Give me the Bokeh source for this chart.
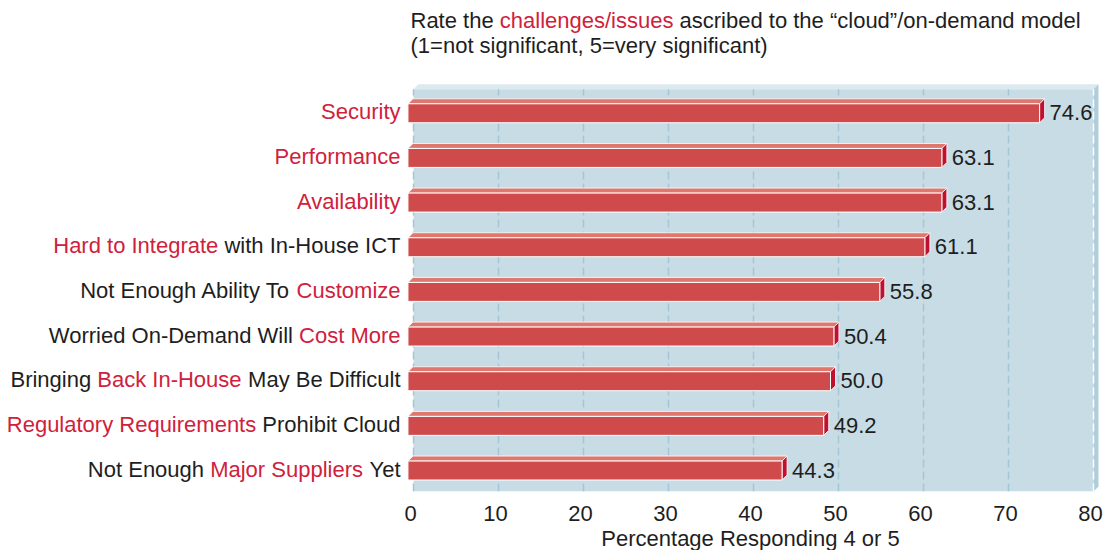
from bokeh.plotting import figure
from bokeh.models import Range1d, FixedTicker, ColumnDataSource, Title
from bokeh.embed import file_html
from bokeh.resources import INLINE
from bokeh.core.properties import value

# ---------------- data ----------------
categories = ["Security", "Performance", "Availability", "Hard to Integrate",
              "Customize", "Cost More", "Back In-House",
              "Regulatory Requirements", "Major Suppliers"]
values = [74.6, 63.1, 63.1, 61.1, 55.8, 50.4, 50.0, 49.2, 44.3]
# label segments: (text, highlighted?)
label_parts = [
    [("Security", True)],
    [("Performance", True)],
    [("Availability", True)],
    [("Hard to Integrate", True), (" with In-House ICT", False)],
    [("Not Enough Ability To ", False), ("Customize", True)],
    [("Worried On-Demand Will ", False), ("Cost More", True)],
    [("Bringing ", False), ("Back In-House", True), (" May Be Difficult", False)],
    [("Regulatory Requirements", True), (" Prohibit Cloud", False)],
    [("Not Enough ", False), ("Major Suppliers", True), (" Yet", False)],
]
title_lines = [
    [("Rate the ", False), ("challenges/issues", True),
     (" ascribed to the \u201ccloud\u201d/on-demand model", False)],
    [("(1=not significant, 5=very significant)", False)],
]
ticks = [0, 10, 20, 30, 40, 50, 60, 70, 80]
x_label = "Percentage Responding 4 or 5"

# ---------------- style / layout ----------------
FONT = "Liberation Sans"
RED_TXT = "#d0213c"
BLK_TXT = "#1e1e1e"
BAR_FRONT = "#cf4b4b"
BAR_TOP = "#de786e"
BAR_SIDE = "#bf1030"
WALL = "#c8dce5"
WALL_TOP = "#dce9ef"
WALL_SIDE = "#b0cdda"
GRID = "#a5c6d6"

FIG_W, FIG_H = 1116, 550
BORDER_BOTTOM = 58
PAGE_X0, PAGE_Y0 = 0, 0

PX_X = 8.5          # pixels per x unit
ORIGIN_PX = 410     # page x of value 0
PX_Y = 44.75        # pixels per category
FIRST_BAR_PX = 113  # page y of first bar centre
n = len(values)

def to_x(page_x):
    return (page_x - ORIGIN_PX) / PX_X

def to_y(page_y):
    return n + (FIRST_BAR_PX - page_y) / PX_Y

frame_h = FIG_H - BORDER_BOTTOM
x_range = Range1d(to_x(PAGE_X0), to_x(PAGE_X0 + FIG_W))
y_range = Range1d(to_y(PAGE_Y0 + frame_h), to_y(PAGE_Y0))

p = figure(width=FIG_W, height=FIG_H, x_range=x_range, y_range=y_range,
           output_backend="svg", toolbar_location=None,
           x_axis_location="below", y_axis_location=None,
           min_border_left=0, min_border_right=0, min_border_top=0,
           min_border_bottom=BORDER_BOTTOM)
p.outline_line_color = None
p.grid.visible = False
p.background_fill_color = "white"
p.border_fill_color = "white"

ax = p.xaxis[0]
ax.ticker = FixedTicker(ticks=ticks)
ax.bounds = (ticks[0], ticks[-1])
ax.axis_line_color = None
ax.major_tick_line_color = None
ax.minor_tick_line_color = None
ax.major_label_text_font = FONT
ax.major_label_text_font_size = "22px"
ax.major_label_text_color = BLK_TXT
ax.major_label_standoff = 8

# ---------------- widths (Arial / Liberation Sans metrics) ----------------
CW = {' ': 278, '!': 278, '"': 355, "'": 191, '(': 333, ')': 333, ',': 278,
      '-': 333, '.': 278, '/': 278, ':': 278, '=': 584, '\u201c': 333, '\u201d': 333}
for ch in "0123456789":
    CW[ch] = 556
CW.update(dict(zip("ABCDEFGHIJKLMNOPQRSTUVWXYZ",
                   [667, 667, 722, 722, 667, 611, 778, 722, 278, 500, 667, 556, 833,
                    722, 778, 667, 778, 722, 667, 611, 722, 667, 944, 667, 667, 611])))
CW.update(dict(zip("abcdefghijklmnopqrstuvwxyz",
                   [556, 556, 500, 556, 556, 278, 556, 556, 222, 222, 500, 222, 833,
                    556, 556, 556, 556, 333, 500, 278, 556, 500, 722, 500, 500, 500])))
KERN = {"Ye": -74, "To": -74, "Av": -37, "Pr": 0}

def tw(s, size):
    w = sum(CW.get(ch, 556) for ch in s)
    w += sum(KERN.get(s[i:i + 2], 0) for i in range(len(s) - 1))
    return w * size / 1000.0

# axis title, centred under the middle of the 0..80 scale
XLAB_SIZE = 22
mid_px = ORIGIN_PX + PX_X * (ticks[0] + ticks[-1]) / 2
p.add_layout(Title(text=x_label, align="left",
                   offset=mid_px - PAGE_X0 - tw(x_label, XLAB_SIZE) / 2,
                   standoff=0, text_font=FONT, text_font_size=f"{XLAB_SIZE}px",
                   text_font_style="normal", text_color=BLK_TXT), "below")

# ---------------- back wall ----------------
DX = 5 / PX_X
DY = 5 / PX_Y
BACK = 3 / PX_X
wl, wr = ticks[0] + BACK, ticks[-1] + BACK
wt, wb = to_y(89), to_y(PAGE_Y0 + frame_h)
p.quad(left=wl, right=wr, bottom=wb, top=wt, fill_color=WALL, line_color=None)
p.patch(x=[wl, wr, wr + DX, wl + DX], y=[wt, wt, wt + DY, wt + DY],
        fill_color=WALL_TOP, line_color=None)
p.patch(x=[wr, wr + DX, wr + DX, wr], y=[wt, wt + DY, wb + DY, wb],
        fill_color=WALL_SIDE, line_color=None)

grid_x = [t + BACK for t in ticks[:-1]]
p.segment(x0=grid_x, x1=grid_x, y0=[wb] * len(grid_x), y1=[wt] * len(grid_x),
          line_color=GRID, line_width=1.5, line_dash="8 4")
p.segment(x0=[wr], x1=[wr], y0=[wb], y1=[wt], line_color="white",
          line_width=1.5, line_dash="8 4")

# ---------------- bars ----------------
HH = 9.5 / PX_Y
yc = [n - i for i in range(n)]
xl = -0.3
xr = [v - DX for v in values]
top_xs, top_ys, side_xs, side_ys = [], [], [], []
for v, r, c in zip(values, xr, yc):
    t, b = c + HH, c - HH
    top_xs.append([xl, r, r + DX, xl + DX])
    top_ys.append([t, t, t + DY, t + DY])
    side_xs.append([r, r + DX, r + DX, r])
    side_ys.append([t, t + DY, b + DY, b])
p.patches(xs=top_xs, ys=top_ys, fill_color=BAR_TOP, line_color="white", line_width=0.8)
p.patches(xs=side_xs, ys=side_ys, fill_color=BAR_SIDE, line_color="white", line_width=0.8)
p.quad(left=[xl] * n, right=xr, bottom=[c - HH for c in yc], top=[c + HH for c in yc],
       fill_color=BAR_FRONT, line_color="white", line_width=1)

# value labels
p.text(x=[v + 5 / PX_X for v in values], y=[c + 0.5 / PX_Y for c in yc],
       text=[f"{v:.1f}" for v in values], text_font=value(FONT),
       text_font_size="22px", text_color=BLK_TXT, text_align="left",
       text_baseline="middle")

# ---------------- multi-colour texts ----------------
segL = dict(x=[], y=[], text=[], color=[])   # left-aligned segments
segR = dict(x=[], y=[], text=[], color=[])   # right-aligned segments

def add_line_left(parts, size, page_left, y):
    acc = 0.0
    for t, red in parts:
        lead = len(t) - len(t.lstrip(" "))
        segL["x"].append(to_x(page_left + acc + tw(t[:lead], size)))
        segL["y"].append(y)
        segL["text"].append(t.strip(" "))
        segL["color"].append(RED_TXT if red else BLK_TXT)
        acc += tw(t, size)

def add_line_right(parts, size, page_right, y):
    acc = 0.0
    for t, red in reversed(parts):
        trail = len(t) - len(t.rstrip(" "))
        segR["x"].append(to_x(page_right - acc - tw(t[len(t) - trail:], size)))
        segR["y"].append(y)
        segR["text"].append(t.strip(" "))
        segR["color"].append(RED_TXT if red else BLK_TXT)
        acc += tw(t, size)

LABEL_SIZE = 22
LABEL_RIGHT = 400
for parts, c in zip(label_parts, yc):
    add_line_right(parts, LABEL_SIZE, LABEL_RIGHT, c + 1.5 / PX_Y)

TITLE_SIZE = 22
for k, parts in enumerate(title_lines):
    add_line_left(parts, TITLE_SIZE, ORIGIN_PX, to_y(20 + 25 * k))

p.text(x="x", y="y", text="text", text_color="color", source=ColumnDataSource(segL),
       text_font=value(FONT), text_font_size="22px", text_align="left",
       text_baseline="middle")
p.text(x="x", y="y", text="text", text_color="color", source=ColumnDataSource(segR),
       text_font=value(FONT), text_font_size="22px", text_align="right",
       text_baseline="middle")

open("out.html", "w").write(file_html(p, INLINE))
